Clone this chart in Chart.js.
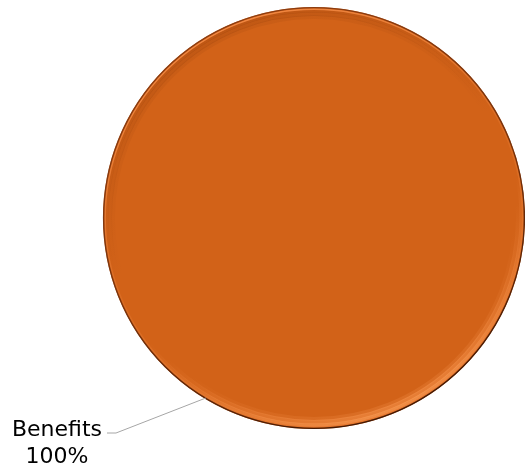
<!DOCTYPE html>
<html>
<head>
<meta charset="utf-8">
<script src="https://cdn.jsdelivr.net/npm/chart.js@4/dist/chart.umd.min.js"></script>
<style>
html,body{margin:0;padding:0;background:#fff;}
#wrap{width:525px;height:466px;position:relative;}
</style>
</head>
<body>
<div id="wrap"><canvas id="c" width="525" height="466"></canvas></div>
<script>
const categories = ["Benefits"];
const values = [100];
const percentLabels = ["100%"];

const baseColor = "#D26218";

const rimPlugin = {
  id: "rim",
  afterDatasetsDraw(chart) {
    const arc = chart.getDatasetMeta(0).data[0];
    if (!arc) return;
    const c = chart.ctx;
    const r = arc.outerRadius;
    const x = arc.x, y = arc.y;
    c.save();
    function ring(rad, w, stops) {
      const g = c.createLinearGradient(x - 0.45 * r, y - r, x + 0.45 * r, y + r);
      stops.forEach(s => g.addColorStop(s[0], s[1]));
      c.strokeStyle = g;
      c.lineWidth = w;
      c.beginPath();
      c.arc(x, y, rad, 0, Math.PI * 2);
      c.stroke();
    }
    // soft inner bevel band: darker on top-left, bright at bottom
    ring(r - 10, 4, [[0, "rgba(110,40,0,0.10)"], [0.45, "rgba(110,40,0,0.0)"], [0.7, "rgba(255,150,80,0.0)"], [1, "rgba(255,160,90,0.25)"]]);
    ring(r - 7, 4, [[0, "rgba(110,40,0,0.18)"], [0.45, "rgba(110,40,0,0.0)"], [0.65, "rgba(255,150,80,0.0)"], [1, "rgba(255,160,90,0.55)"]]);
    ring(r - 4, 3, [[0, "rgba(110,40,0,0.22)"], [0.45, "rgba(110,40,0,0.0)"], [0.6, "rgba(255,150,80,0.0)"], [1, "rgba(255,165,95,0.75)"]]);
    // thin light line near edge (visible top-left)
    ring(r - 2.2, 1.4, [[0, "rgba(245,140,70,0.95)"], [0.5, "rgba(245,140,70,0.2)"], [1, "rgba(245,140,70,0.6)"]]);
    // dark outer edge
    ring(r - 0.6, 1.4, [[0, "rgba(130,55,15,0.85)"], [0.5, "rgba(110,45,10,0.9)"], [1, "rgba(60,22,4,1)"]]);
    c.restore();
  }
};

const labelPlugin = {
  id: "outLabels",
  afterDraw(chart) {
    const arc = chart.getDatasetMeta(0).data[0];
    if (!arc) return;
    const c = chart.ctx;
    const r = arc.outerRadius;
    const ang = 121 * Math.PI / 180;
    const px = arc.x + Math.cos(ang) * (r - 1);
    const py = arc.y + Math.sin(ang) * (r - 1);
    const ex = arc.x - 198, ey = arc.y + 215;
    c.save();
    c.strokeStyle = "#A6A6A6";
    c.lineWidth = 1;
    c.beginPath();
    c.moveTo(px, py);
    c.lineTo(ex, ey);
    c.lineTo(ex - 9, ey);
    c.stroke();
    c.fillStyle = "#000";
    c.font = "22px 'DejaVu Sans', Verdana, sans-serif";
    c.textAlign = "center";
    c.textBaseline = "alphabetic";
    const cx = 57;
    c.fillText(categories[0], cx, ey + 3);
    c.fillText(percentLabels[0], cx, ey + 30);
    c.restore();
  }
};

new Chart(document.getElementById("c"), {
  type: "pie",
  data: {
    labels: categories,
    datasets: [{
      data: values,
      backgroundColor: baseColor,
      borderWidth: 0
    }]
  },
  options: {
    responsive: false,
    animation: false,
    layout: { padding: { left: 103, right: 0, top: 7, bottom: 37 } },
    plugins: { legend: { display: false }, tooltip: { enabled: false } }
  },
  plugins: [rimPlugin, labelPlugin]
});
</script>
</body>
</html>
